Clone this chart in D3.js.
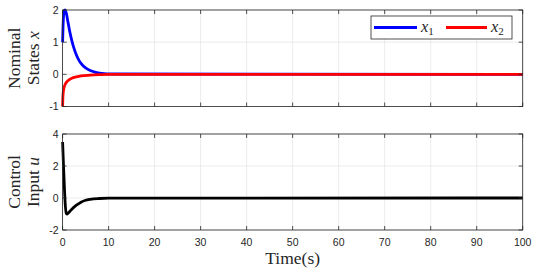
<!DOCTYPE html>
<html>
<head>
<meta charset="utf-8">
<script src="https://cdn.jsdelivr.net/npm/d3@7"></script>
<style>
  body { margin: 0; background: #fff; }
  svg text { fill: #262626; }
</style>
</head>
<body>
<div id="chart"></div>
<script>
// values
const timeX1 = [0, 0.1, 0.3, 0.5, 0.8, 1.2, 1.6, 2, 2.5, 3, 3.5, 4, 5, 6, 7, 8, 9, 10, 100];
const x1Vals = [1, 1.5, 1.95, 2.0, 1.9, 1.6, 1.3, 1.05, 0.8, 0.6, 0.45, 0.34, 0.2, 0.12, 0.07, 0.04, 0.02, 0.01, 0];
const timeX2 = [0, 0.05, 0.15, 0.3, 0.6, 1, 1.5, 2, 3, 4, 6, 8, 10, 100];
const x2Vals = [-1, -0.75, -0.55, -0.42, -0.3, -0.22, -0.16, -0.12, -0.08, -0.05, -0.025, -0.01, 0, 0];
const timeU = [0, 0.2, 0.4, 0.6, 0.8, 1.0, 1.3, 2, 3, 4, 5, 6, 8, 10, 100];
const uVals = [3.5, 2.0, 0.6, -0.5, -0.95, -1.0, -0.92, -0.7, -0.45, -0.26, -0.14, -0.08, -0.03, -0.01, 0];
const xTicks = [0, 10, 20, 30, 40, 50, 60, 70, 80, 90, 100];
const topYTicks = [-1, 0, 1, 2];
const botYTicks = [-2, 0, 2, 4];

const W = 540, H = 273;
const serif = "'Liberation Serif', 'Times New Roman', serif";
const sans = "'Liberation Sans', Arial, sans-serif";
const svg = d3.select("#chart").append("svg").attr("width", W).attr("height", H);

const x = d3.scaleLinear().domain([0, 100]).range([62.6, 522.7]);

function drawPanel(top, bottom, yDomain, yTicks, series, labels) {
  const y = d3.scaleLinear().domain(yDomain).range([bottom, top]);
  const g = svg.append("g");

  // grid
  g.selectAll(".gx").data(xTicks).join("line")
    .attr("x1", d => x(d)).attr("x2", d => x(d))
    .attr("y1", top).attr("y2", bottom)
    .attr("stroke", "#dfdfdf").attr("stroke-width", 0.6);
  g.selectAll(".gy").data(yTicks).join("line")
    .attr("x1", x(0)).attr("x2", x(100))
    .attr("y1", d => y(d)).attr("y2", d => y(d))
    .attr("stroke", "#dfdfdf").attr("stroke-width", 0.6);

  // curves
  const line = d3.line().curve(d3.curveMonotoneX);
  series.forEach(s => {
    g.append("path")
      .datum(s.t.map((t, i) => [x(t), y(s.v[i])]))
      .attr("d", line)
      .attr("fill", "none")
      .attr("stroke", s.color)
      .attr("stroke-width", 2.8)
      .attr("stroke-linejoin", "round");
  });

  // box
  g.append("rect")
    .attr("x", x(0)).attr("y", top)
    .attr("width", x(100) - x(0)).attr("height", bottom - top)
    .attr("fill", "none").attr("stroke", "#262626").attr("stroke-width", 0.8);

  // ticks (inside, MATLAB style)
  const tl = 4;
  g.selectAll(".tb").data(xTicks).join("line")
    .attr("x1", d => x(d)).attr("x2", d => x(d))
    .attr("y1", bottom).attr("y2", bottom - tl)
    .attr("stroke", "#262626").attr("stroke-width", 0.8);
  g.selectAll(".tt").data(xTicks).join("line")
    .attr("x1", d => x(d)).attr("x2", d => x(d))
    .attr("y1", top).attr("y2", top + tl)
    .attr("stroke", "#262626").attr("stroke-width", 0.8);
  g.selectAll(".tyl").data(yTicks).join("line")
    .attr("x1", x(0)).attr("x2", x(0) + tl)
    .attr("y1", d => y(d)).attr("y2", d => y(d))
    .attr("stroke", "#262626").attr("stroke-width", 0.8);
  g.selectAll(".tyr").data(yTicks).join("line")
    .attr("x1", x(100)).attr("x2", x(100) - tl)
    .attr("y1", d => y(d)).attr("y2", d => y(d))
    .attr("stroke", "#262626").attr("stroke-width", 0.8);

  // y tick labels
  g.selectAll(".yl").data(yTicks).join("text")
    .attr("x", x(0) - 4).attr("y", d => y(d))
    .attr("dy", "0.35em").attr("text-anchor", "end")
    .attr("font-family", sans)
    .attr("font-size", 10.5)
    .text(d => d);

  // y label (two lines, rotated)
  const cy = (top + bottom) / 2;
  labels.forEach((lab, i) => {
    const t = g.append("text")
      .attr("transform", `translate(${[20, 39][i]},${cy}) rotate(-90)`)
      .attr("text-anchor", "middle")
      .attr("font-family", serif)
      .attr("font-size", 17.5);
    t.append("tspan").text(lab[0]);
    if (lab[1]) t.append("tspan").attr("font-style", "italic").text(" " + lab[1]);
  });
  return y;
}

drawPanel(10, 106.5, [-1, 2], topYTicks,
  [{ t: timeX1, v: x1Vals, color: "#0000ff" }, { t: timeX2, v: x2Vals, color: "#ff0000" }],
  [["Nominal"], ["States", "x"]]);

drawPanel(134, 230, [-2, 4], botYTicks,
  [{ t: timeU, v: uVals, color: "#000000" }],
  [["Control"], ["Input", "u"]]);

// x tick labels
svg.selectAll(".xl").data(xTicks).join("text")
  .attr("x", d => x(d)).attr("y", 246)
  .attr("text-anchor", "middle")
  .attr("font-family", sans)
  .attr("font-size", 10.5)
  .text(d => d);

svg.append("text")
  .attr("x", x(50)).attr("y", 264)
  .attr("text-anchor", "middle")
  .attr("font-family", serif)
  .attr("font-size", 17.5)
  .text("Time(s)");

// legend
const leg = svg.append("g");
leg.append("rect").attr("x", 371).attr("y", 16).attr("width", 141).attr("height", 23)
  .attr("fill", "#fff").attr("stroke", "#262626").attr("stroke-width", 0.8);
const legItems = [
  { color: "#0000ff", sub: "1", x0: 374, x1: 417 },
  { color: "#ff0000", sub: "2", x0: 446, x1: 487 }
];
legItems.forEach(d => {
  leg.append("line").attr("x1", d.x0).attr("x2", d.x1).attr("y1", 27.5).attr("y2", 27.5)
    .attr("stroke", d.color).attr("stroke-width", 2.8);
  const t = leg.append("text").attr("x", d.x1 + 4).attr("y", 32)
    .attr("font-family", serif)
    .attr("font-size", 16.5);
  t.append("tspan").attr("font-style", "italic").text("x");
  t.append("tspan").attr("font-size", 11).attr("dy", 3).text(d.sub);
});
</script>
</body>
</html>
